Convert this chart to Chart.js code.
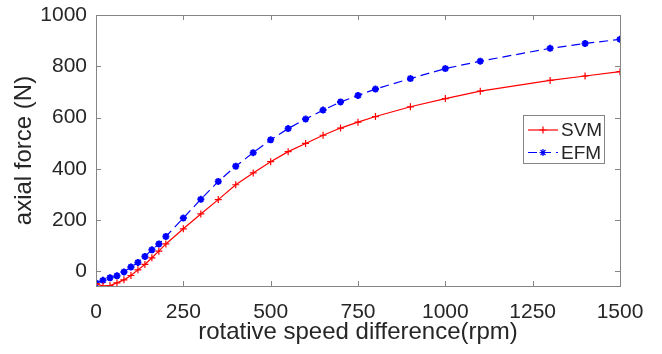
<!DOCTYPE html>
<html><head><meta charset="utf-8">
<script src="https://cdn.jsdelivr.net/npm/chart.js@4/dist/chart.umd.min.js"></script>
<style>html,body{margin:0;padding:0;background:#fff;}#wrap{width:662px;height:354px;position:relative;}</style>
</head><body>
<div id="wrap"><canvas id="c" width="662" height="354"></canvas></div>
<script>
const speeds = [0,20,40,60,80,100,120,140,160,180,200,250,300,350,400,450,500,550,600,650,700,750,800,900,1000,1100,1300,1400,1500];
const svm = [-48,-57,-55,-45,-33,-16,6,27,53,79,107,166,224,280,338,384,428,467,499,531,559,582,604,642,674,703,745,762,779];
const efm = [-45,-35,-25,-17,-2,17,35,58,84,107,136,208,281,351,410,463,513,557,594,629,661,686,711,752,791,820,870,889,905];
const xTicks = [0,250,500,750,1000,1250,1500];
const yTicks = [0,200,400,600,800,1000];
const seriesNames = ['SVM','EFM'];

const FONT = '"Liberation Sans", Arial, sans-serif';
const TXT = '#262626';
const AX = '#858585';

const boxPlugin = {
  id: 'boxTicks',
  afterDraw(chart) {
    const {ctx, chartArea: a, scales} = chart;
    ctx.save();
    ctx.strokeStyle = AX; ctx.lineWidth = 1;
    ctx.strokeRect(Math.round(a.left)+0.5, Math.round(a.top)+0.5, Math.round(a.right-a.left), Math.round(a.bottom-a.top));
    const L = 5;
    ctx.beginPath();
    xTicks.forEach(v => {
      const x = Math.round(scales.x.getPixelForValue(v))+0.5;
      ctx.moveTo(x, a.bottom); ctx.lineTo(x, a.bottom-L);
      ctx.moveTo(x, a.top); ctx.lineTo(x, a.top+L);
    });
    yTicks.forEach(v => {
      const y = Math.round(scales.y.getPixelForValue(v))+0.5;
      ctx.moveTo(a.left, y); ctx.lineTo(a.left+L, y);
      ctx.moveTo(a.right, y); ctx.lineTo(a.right-L, y);
    });
    ctx.stroke();
    // legend
    const bx = a.right - 97, by = a.top + 100, bw = 81, bh = 48;
    ctx.fillStyle = '#fff';
    ctx.fillRect(bx, by, bw, bh);
    ctx.strokeStyle = AX;
    ctx.strokeRect(bx+0.5, by+0.5, bw, bh);
    chart.data.datasets.forEach((ds, i) => {
      const cy = by + 15 + i*22.5;
      ctx.strokeStyle = ds.borderColor; ctx.lineWidth = 1.2;
      ctx.setLineDash(ds.borderDash || []);
      ctx.beginPath(); ctx.moveTo(bx+5, cy); ctx.lineTo(bx+35, cy); ctx.stroke();
      ctx.setLineDash([]);
      Chart.helpers.drawPoint(ctx, {pointStyle: ds.pointStyle, radius: ds.pointRadius, borderWidth: ds.pointBorderWidth}, bx+20, cy);
      ctx.fillStyle = TXT; ctx.font = '19px ' + FONT;
      ctx.textBaseline = 'middle'; ctx.textAlign = 'left';
      ctx.fillText(ds.label, bx+38, cy+1);
    });
    ctx.restore();
  }
};

new Chart(document.getElementById('c'), {
  type: 'line',
  data: {
    datasets: [
      { label: seriesNames[0], data: speeds.map((x,i)=>({x, y: svm[i]})),
        borderColor: '#ff0000', backgroundColor: '#ff0000', borderWidth: 1.2,
        pointStyle: 'cross', pointRadius: 3.5, pointBorderWidth: 1.2, pointBorderColor: '#ff0000', tension: 0 },
      { label: seriesNames[1], data: speeds.map((x,i)=>({x, y: efm[i]})),
        borderColor: '#0000ff', backgroundColor: '#0000ff', borderWidth: 1.2, borderDash: [9,5],
        pointStyle: 'star', pointRadius: 3.5, pointBorderWidth: 2, pointBorderColor: '#0000ff', tension: 0 }
    ]
  },
  options: {
    responsive: false, animation: false, devicePixelRatio: 1,
    layout: { padding: { top: 15, right: 42, left: 0, bottom: 0 } },
    plugins: { legend: { display: false }, tooltip: { enabled: false } },
    scales: {
      x: { type: 'linear', min: 0, max: 1500,
        afterBuildTicks: s => { s.ticks = xTicks.map(v => ({value: v})); },
        afterFit: s => { s.height = 68; },
        grid: { display: false }, border: { display: false },
        ticks: { color: TXT, font: { size: 21, family: FONT }, padding: 6, maxRotation: 0, autoSkip: false, callback: v => String(v) },
        title: { display: true, text: 'rotative speed difference(rpm)', color: TXT, font: { size: 24, family: FONT }, padding: { top: 0, bottom: 7 } }
      },
      y: { type: 'linear', min: -57, max: 1000,
        afterBuildTicks: s => { s.ticks = yTicks.map(v => ({value: v})); },
        afterFit: s => { s.width = 96; },
        grid: { display: false }, border: { display: false },
        ticks: { color: TXT, font: { size: 21, family: FONT }, padding: 1, autoSkip: false, callback: v => String(v) },
        title: { display: true, text: 'axial force (N)', color: TXT, font: { size: 24, family: FONT }, padding: { top: 10, bottom: 4 } }
      }
    }
  },
  plugins: [boxPlugin]
});
</script>
</body></html>
